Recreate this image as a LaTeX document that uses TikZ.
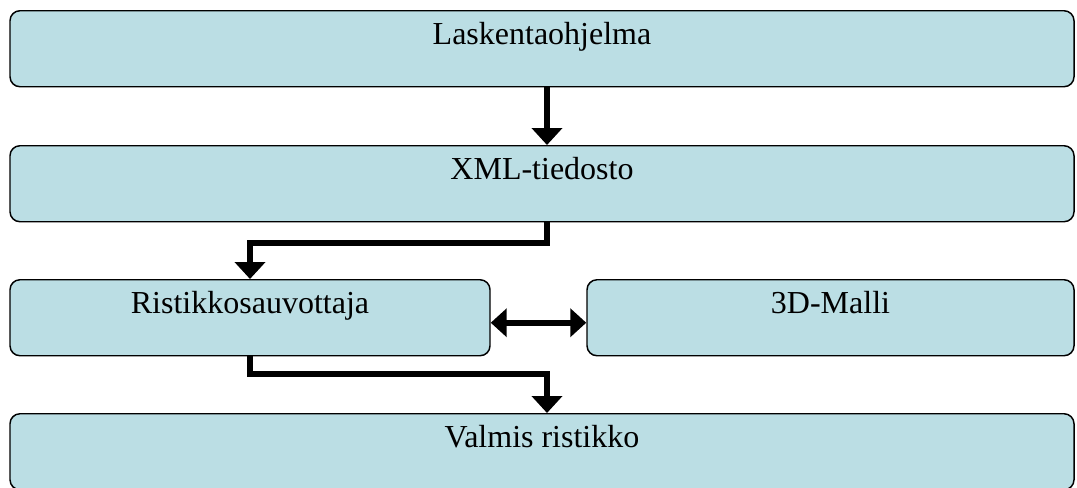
\documentclass[tikz,border=0pt]{standalone}
\usepackage{fontspec}
\setmainfont{Liberation Serif}
\usetikzlibrary{arrows.meta}
\definecolor{boxblue}{RGB}{187,222,228}

\begin{document}
\begin{tikzpicture}[x=0.75pt,y=-0.75pt,font=\fontsize{24}{28}\selectfont,
  box/.style={draw,line width=1.1pt,fill=boxblue,rounded corners=7.5pt,
   inner sep=0pt,text height=25pt,text depth=32pt,anchor=north},
  arr/.style={line width=4.5pt,-{Triangle[width=22.5pt,length=12.75pt]}},
  dblarr/.style={line width=4.5pt,
   {Triangle[width=21pt,length=12pt]}-{Triangle[width=21pt,length=12pt]}}]
 \useasboundingbox (0,0) rectangle (1077,487);
 \node[box,minimum width=798pt] (lask) at (542,10) {Laskentaohjelma};
 \node[box,minimum width=798pt] (xml) at (542,145) {XML-tiedosto};
 \node[box,minimum width=360pt] (ris) at (250,279) {Ristikkosauvottaja};
 \node[box,minimum width=365.25pt] (malli) at (830.5,279) {3D-Malli};
 \node[box,minimum width=798pt] (valm) at (542,413) {Valmis ristikko};
 \coordinate (mid) at (547,0);
 \draw[arr] (lask.south -| mid) -- (xml.north -| mid);
 \draw[arr] (xml.south -| mid) -- ++(0,21) -| (ris.north);
 \draw[dblarr] ([yshift=-3.75pt]ris.east) -- ([yshift=-3.75pt]malli.west);
 \draw[arr] (ris.south) -- ++(0,18) -| (valm.north -| mid);
\end{tikzpicture}
\end{document}
